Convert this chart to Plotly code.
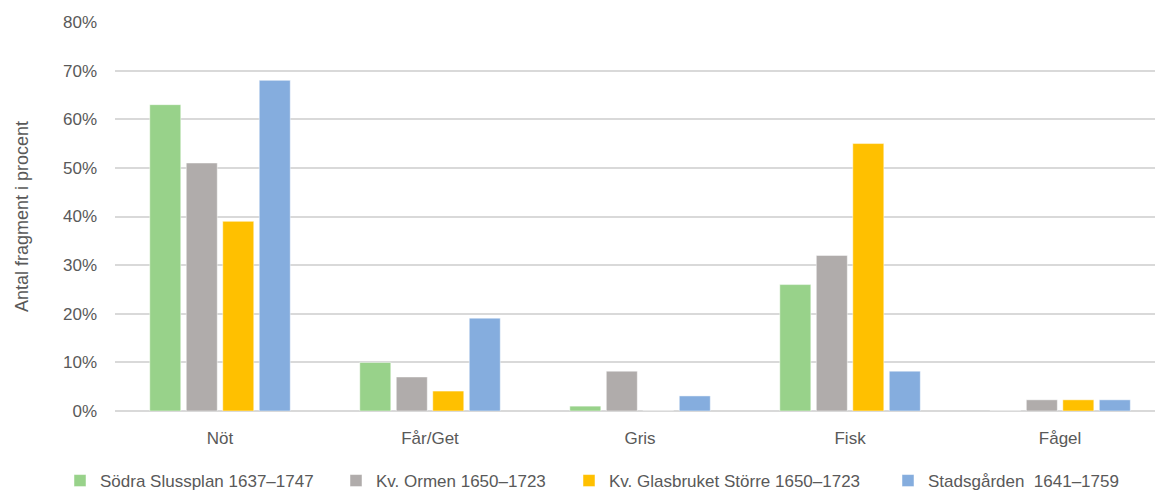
import plotly.graph_objects as go

categories = ["Nöt", "Får/Get", "Gris", "Fisk", "Fågel"]
series_names = [
    "Södra Slussplan 1637–1747",
    "Kv. Ormen 1650–1723",
    "Kv. Glasbruket Större 1650–1723",
    "Stadsgården  1641–1759",
]
sodra = [0.63, 0.10, 0.01, 0.26, 0.0]
ormen = [0.51, 0.07, 0.082, 0.32, 0.023]
glasbruket = [0.39, 0.041, 0.0, 0.55, 0.023]
stadsgarden = [0.68, 0.191, 0.031, 0.082, 0.023]
colors = ["#98D28A", "#B0ACAB", "#FFC000", "#85ADDE"]
y_ticks = [0, 0.1, 0.2, 0.3, 0.4, 0.5, 0.6, 0.7, 0.8]

FONT = "Liberation Sans, Arial, sans-serif"
GREY = "#595959"
W, H = 1155, 493

# legend left positions (px) for each entry
legend_left = [60, 336, 569, 888]
legend_keys = ["legend", "legend2", "legend3", "legend4"]

fig = go.Figure()
for name, vals, col, lk in zip(series_names, [sodra, ormen, glasbruket, stadsgarden], colors, legend_keys):
    fig.add_trace(go.Bar(
        x=categories, y=vals, name=name, legend=lk,
        marker=dict(color=col, line=dict(color="rgba(255,255,255,0.6)", width=0.8)),
    ))

layout_legends = {}
for lk, lx in zip(legend_keys, legend_left):
    layout_legends[lk] = dict(
        orientation="h", xref="container", yref="container",
        x=lx / W, xanchor="left",
        y=1 - 481 / H, yanchor="middle",
        font=dict(family=FONT, size=17, color=GREY),
        bgcolor="rgba(0,0,0,0)", borderwidth=0,
    )

fig.update_layout(
    width=W, height=H,
    barmode="group", bargap=0.305, bargroupgap=0.15,
    plot_bgcolor="white", paper_bgcolor="white",
    margin=dict(l=115, r=0, t=22, b=H - 411),
    font=dict(family=FONT, color=GREY, size=17),
    showlegend=True,
    **layout_legends,
)
fig.update_xaxes(
    type="category", range=[-0.5, 4.452], automargin=False,
    showgrid=False, showline=False, ticks="", ticklabelstandoff=15,
    tickfont=dict(family=FONT, size=17, color=GREY),
)
fig.update_yaxes(
    range=[0, 0.8], tickvals=y_ticks, tickformat=".0%", automargin=False,
    showgrid=True, gridcolor="#D9D9D9", gridwidth=1.5,
    zeroline=True, zerolinecolor="#D9D9D9", zerolinewidth=1.5,
    showline=False, ticks="", ticklabelstandoff=17,
    tickfont=dict(family=FONT, size=17, color=GREY),
    title=dict(text="Antal fragment i procent", standoff=29,
               font=dict(family=FONT, size=18, color=GREY)),
)

fig.write_html(
    "out.html",
    config={"displayModeBar": False},
    post_script="document.body.style.margin='0';document.body.style.overflow='hidden';",
)
